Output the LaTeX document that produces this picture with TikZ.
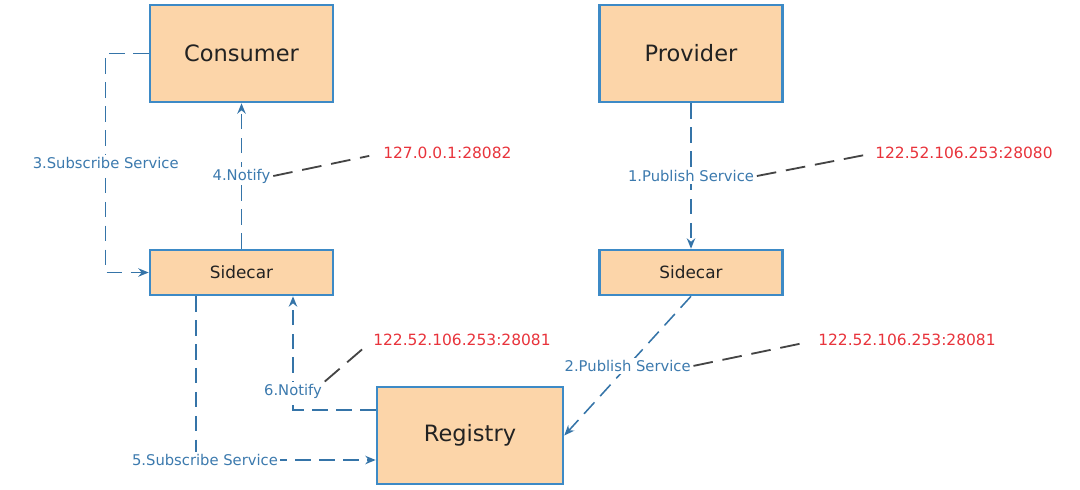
\documentclass[tikz,border=0pt]{standalone}
\usepackage{fontspec}
\setmainfont{DejaVu Sans}
\usetikzlibrary{arrows.meta,calc}
\definecolor{peach}{HTML}{FCD5A9}
\definecolor{edge}{HTML}{3D8AC6}
\definecolor{flowblue}{HTML}{3574A8}
\definecolor{labelblue}{HTML}{3C7AAE}
\definecolor{addr}{HTML}{E8333B}
\definecolor{ink}{HTML}{222222}
\definecolor{leadgray}{HTML}{444444}
\tikzset{
  box/.style={draw=edge,fill=peach,line width=1.8pt,text=ink,align=center,inner sep=0pt},
  bigbox/.style={box,minimum width=4.575cm,minimum height=2.425cm,font=\fontsize{16}{19}\selectfont},
  carbox/.style={box,minimum width=4.575cm,minimum height=1.125cm,font=\fontsize{12}{14}\selectfont},
  flow/.style={-{Stealth[length=2.6mm,width=2.1mm]},line width=1.1pt,draw=flowblue,dash pattern=on 11pt off 6pt},
  flowlabel/.style={fill=white,inner sep=1.5pt,text=labelblue,font=\fontsize{10.5}{12}\selectfont},
  addrlabel/.style={text=addr,font=\fontsize{11}{13}\selectfont,anchor=west,inner sep=0pt},
  leader/.style={draw=leadgray,line width=1.3pt,dash pattern=on 14pt off 7pt,shorten >=10pt}
}
\begin{document}
\begin{tikzpicture}[x=0.025cm,y=-0.025cm]
    \useasboundingbox (0,0) rectangle (1080,489);
    % boxes
    \node[bigbox] (cons) at (241.5,53.5) {Consumer};
    \node[bigbox] (prov) at (691,53.5) {Provider};
    \node[carbox] (lsc) at (241.5,272.5) {Sidecar};
    \node[carbox] (rsc) at (691,272.5) {Sidecar};
    \node[bigbox,minimum width=4.65cm] (reg) at (470,435.5) {Registry};
    % flows
    \draw[flow] (prov.south) -- node[flowlabel] (pub1) {1.Publish Service} (rsc.north);
    \draw[flow] (rsc.south) -- node[flowlabel] (pub2) {2.Publish Service} (reg.east);
    \draw[flow] (cons.west) -- ++(-43,0) |- node[flowlabel,pos=0.25] (sub3) {3.Subscribe Service} (lsc.west);
    \draw[flow] (lsc.north) -- node[flowlabel] (not4) {4.Notify} (cons.south);
    \draw[flow] ($(lsc.south)+(-45.5,0)$) |- node[flowlabel,pos=0.525] (sub5) {5.Subscribe Service} ($(reg.west)+(0,24.5)$);
    \draw[flow] ($(reg.north west)+(0,24)$) -| node[flowlabel,pos=0.58] (not6) {6.Notify} ($(lsc.south)+(51.5,0)$);
    % addresses
    \node[addrlabel] (ip4) at (383,153) {127.0.0.1:28082};
    \node[addrlabel] (ip1) at (875,153) {122.52.106.253:28080};
    \node[addrlabel] (ip2) at (818,340) {122.52.106.253:28081};
    \node[addrlabel] (ip6) at (373,340) {122.52.106.253:28081};
    \draw[leader] (not4.east) -- (ip4.west);
    \draw[leader,shorten >=6pt] (pub1.east) -- (ip1.west);
    \draw[leader] (pub2.east) -- (ip2.west);
    \draw[leader,shorten >=5pt] (not6.north east) -- (ip6.west);
\end{tikzpicture}
\end{document}
